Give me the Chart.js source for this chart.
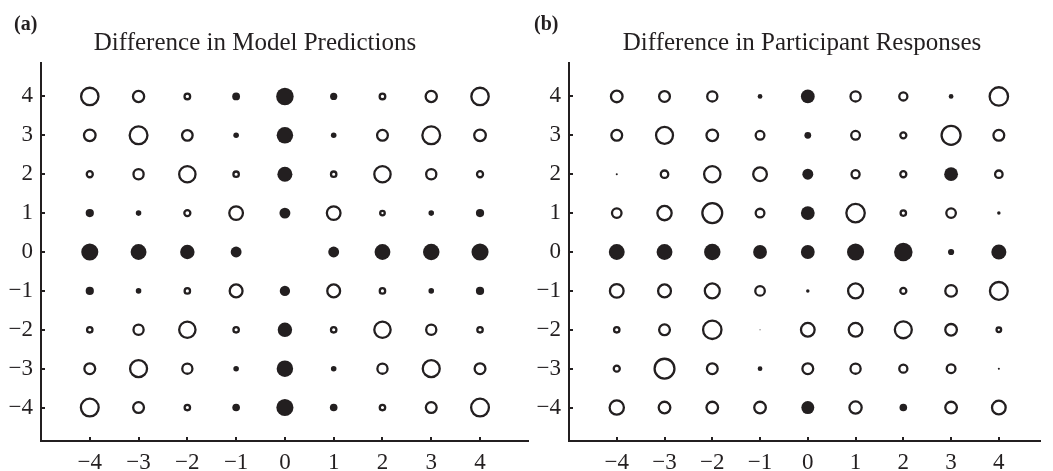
<!DOCTYPE html>
<html><head><meta charset="utf-8">
<script src="https://cdn.jsdelivr.net/npm/chart.js@4.4.1/dist/chart.umd.min.js"></script>
<style>
html,body{margin:0;padding:0;background:#fff;}
#wrap{position:relative;width:1053px;height:471px;overflow:hidden;background:#fff;}
canvas{position:absolute;top:0;}
.lab{position:absolute;font-family:"Liberation Serif","Times New Roman",serif;color:#231f20;white-space:nowrap;line-height:1;}
.ttl{font-size:25px;width:500px;text-align:center;top:29px;}
.pl{font-size:20px;font-weight:bold;top:13px;}
</style></head><body>
<div id="wrap">
<canvas id="ca" width="540" height="471" style="left:0px;width:540px;height:471px"></canvas>
<canvas id="cb" width="525" height="471" style="left:528px;width:525px;height:471px"></canvas>
<div class="lab pl" style="left:14px">(a)</div>
<div class="lab ttl" style="left:5px">Difference in Model Predictions</div>
<div class="lab pl" style="left:534px">(b)</div>
<div class="lab ttl" style="left:552px">Difference in Participant Responses</div>
</div>
<script>
// categories
const xCategories = [-4, -3, -2, -1, 0, 1, 2, 3, 4];
const yCategories = [4, 3, 2, 1, 0, -1, -2, -3, -4];
// signed differences (positive = filled, negative = open); rows follow yCategories
const modelDiff = [
  [-0.95, -0.65, -0.38, 0.38, 0.85, 0.35, -0.38, -0.65, -0.95],
  [-0.67, -0.97, -0.62, 0.27, 0.80, 0.27, -0.63, -0.97, -0.67],
  [-0.40, -0.60, -0.90, -0.37, 0.73, -0.37, -0.90, -0.60, -0.40],
  [0.40, 0.27, -0.40, -0.77, 0.53, -0.77, -0.33, 0.27, 0.40],
  [0.83, 0.77, 0.70, 0.53, 0.00, 0.53, 0.77, 0.80, 0.83],
  [0.40, 0.27, -0.37, -0.73, 0.50, -0.73, -0.37, 0.27, 0.40],
  [-0.37, -0.60, -0.90, -0.37, 0.70, -0.37, -0.90, -0.60, -0.37],
  [-0.63, -0.93, -0.60, 0.27, 0.80, 0.27, -0.60, -0.93, -0.63],
  [-0.97, -0.63, -0.37, 0.37, 0.83, 0.37, -0.37, -0.63, -0.97]
];
const participantDiff = [
  [-0.67, -0.63, -0.60, 0.23, 0.67, -0.60, -0.50, 0.23, -1.00],
  [-0.63, -0.93, -0.67, -0.53, 0.33, -0.53, -0.40, -1.03, -0.63],
  [0.10, -0.47, -0.90, -0.77, 0.53, -0.50, -0.40, 0.67, -0.47],
  [-0.57, -0.80, -1.07, -0.53, 0.67, -1.00, -0.37, -0.57, 0.17],
  [0.77, 0.77, 0.80, 0.67, 0.67, 0.83, 0.90, 0.30, 0.73],
  [-0.77, -0.73, -0.83, -0.57, 0.17, -0.83, -0.40, -0.67, -0.97],
  [-0.37, -0.63, -1.00, 0.05, -0.77, -0.77, -0.93, -0.67, -0.33],
  [-0.40, -1.07, -0.63, 0.23, -0.63, -0.60, -0.50, -0.53, 0.10],
  [-0.80, -0.67, -0.67, -0.67, 0.63, -0.70, 0.37, -0.67, -0.77]
];

const INK = '#231f20';
const FONT = '"Liberation Serif","Times New Roman",serif';
const RSCALE = 10.3;
const fmt = v => String(v).replace('-', '\u2212');

function toPoints(grid) {
  const pts = [];
  yCategories.forEach((yv, r) => {
    xCategories.forEach((xv, c) => pts.push({x: xv, y: yv, v: grid[r][c]}));
  });
  return pts;
}

const innerTicks = {
  id: 'innerTicks',
  afterDraw(chart) {
    const {ctx, chartArea: a, scales: {x, y}} = chart;
    ctx.save();
    ctx.strokeStyle = INK;
    ctx.lineWidth = 2;
    ctx.beginPath();
    x.ticks.forEach(t => {
      const px = Math.round(x.getPixelForValue(t.value));
      ctx.moveTo(px, a.bottom); ctx.lineTo(px, a.bottom - 4);
    });
    y.ticks.forEach(t => {
      const py = Math.round(y.getPixelForValue(t.value));
      ctx.moveTo(a.left, py); ctx.lineTo(a.left + 4, py);
    });
    ctx.stroke();
    ctx.restore();
  }
};

function makeChart(id, grid, xMax, padRight) {
  return new Chart(document.getElementById(id), {
    type: 'scatter',
    data: {
      datasets: [{
        data: toPoints(grid),
        pointStyle: 'circle',
        radius: c => {
          const v = c.raw ? c.raw.v : 0;
          const outer = Math.abs(v) * RSCALE;
          return v < 0 ? Math.max(outer - 1.1, 0.5) : outer;
        },
        backgroundColor: c => (c.raw && c.raw.v > 0) ? INK : 'rgba(0,0,0,0)',
        borderColor: INK,
        borderWidth: c => (c.raw && c.raw.v < 0) ? 2.3 : 0,
        hoverRadius: 0
      }]
    },
    options: {
      responsive: false,
      devicePixelRatio: 1,
      animation: false,
      events: [],
      layout: {padding: {top: 63, right: padRight, left: 0, bottom: 0}},
      plugins: {legend: {display: false}, tooltip: {enabled: false}, title: {display: false}},
      scales: {
        x: {
          type: 'linear', position: 'bottom', min: -5, max: xMax,
          afterBuildTicks: s => { s.ticks = xCategories.map(v => ({value: v})); },
          afterFit: s => { s.height = 30; },
          grid: {display: false, drawTicks: false},
          border: {display: true, width: 2, color: INK},
          ticks: {color: INK, font: {family: FONT, size: 23, lineHeight: 1}, padding: 10,
                  maxRotation: 0, autoSkip: false, callback: v => fmt(v)}
        },
        y: {
          type: 'linear', position: 'left', min: -4.86, max: 4.86,
          afterBuildTicks: s => { s.ticks = yCategories.map(v => ({value: v})); },
          afterFit: s => { s.width = 41; },
          grid: {display: false, drawTicks: false},
          border: {display: true, width: 2, color: INK},
          ticks: {color: INK, font: {family: FONT, size: 23, lineHeight: 1}, padding: 8,
                  autoSkip: false, callback: v => fmt(v)}
        }
      }
    },
    plugins: [innerTicks]
  });
}

makeChart('ca', modelDiff, 5, 9);
makeChart('cb', participantDiff, 4.878, 0);
</script>
</body></html>
